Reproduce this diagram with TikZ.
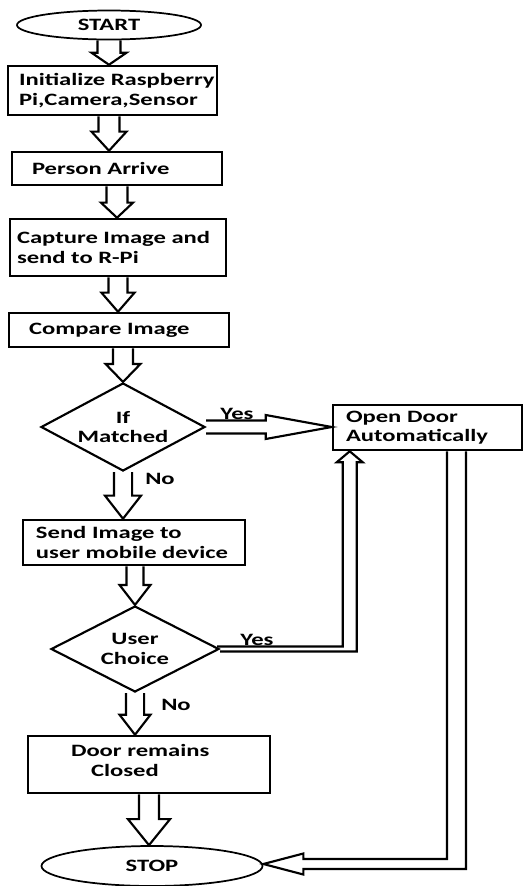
\documentclass[tikz,border=0pt]{standalone}
\usepackage{fontspec}
\setmainfont{Carlito}[FakeStretch=1.42]
\usepackage{tikz}
\usetikzlibrary{shapes.geometric}
\usetikzlibrary{positioning}
\usetikzlibrary{calc}
\newcommand{\flowfont}{\bfseries\fontsize{13pt}{14.5pt}\selectfont}
\tikzset{
  % node options
  terminal/.style={ellipse,draw,line width=1.3pt,inner sep=0pt,font=\flowfont},
  process/.style={rectangle,draw,line width=1.9pt,inner sep=0pt},
  boxtext/.style={align=left,inner sep=0pt,font=\flowfont},
  decision/.style={diamond,draw,line width=1.6pt,inner sep=0pt,aspect=2,align=center,font=\flowfont},
  answer/.style={inner sep=0pt,font=\flowfont},
  % path options
  blockarrow/.style={draw,line width=1.6pt,line join=miter},
}
% hollow block arrow: from, to, shaft half width, head half width, head length
\newcommand{\flowarrow}[5]{%
  \coordinate (fa from) at (#1);
  \coordinate (fa to) at (#2);
  \coordinate (fa base) at ($(fa to)!#5!(fa from)$);
  \draw[blockarrow] ($(fa from)!#3!90:(fa to)$) -- ($(fa base)!#3!-90:(fa from)$)
    -- ($(fa base)!#4!-90:(fa from)$) -- (fa to) -- ($(fa base)!#4!90:(fa from)$)
    -- ($(fa base)!#3!90:(fa from)$) -- ($(fa from)!#3!-90:(fa to)$);
}

\begin{document}
\begin{tikzpicture}[x=0.75pt,y=-0.75pt]
    \useasboundingbox (0,0) rectangle (525,886);
    % main column
    \node[terminal,minimum width=138pt,minimum height=21.75pt] (start) at (109,25) {START};
    \node[process,minimum width=156.75pt,minimum height=36.75pt] (init) at (112.5,90.5) {};
    \node[boxtext,right=9pt of init.west] (init text) {Initialize Raspberry\\Pi,Camera,Sensor};
    \node[process,minimum width=157.5pt,minimum height=24.75pt] (person) at (117,168.5) {};
    \node[boxtext,right=15.75pt of person.west] (person text) {Person Arrive};
    \node[process,minimum width=162pt,minimum height=42.75pt] (capture) at (118,247.5) {};
    \node[boxtext,right=6pt of capture.west] (capture text) {Capture Image and\\send to R-Pi};
    \node[process,minimum width=165pt,minimum height=25.5pt] (compare) at (119,330) {};
    \node[boxtext,right=15.75pt of compare.west] (compare text) {Compare Image};
    \node[decision,minimum width=123pt,minimum height=66pt] (match) at (123,427) {If\\Matched};
    \node[process,minimum width=166.5pt,minimum height=33.75pt] (send) at (134,542.5) {};
    \node[boxtext,right=10.5pt of send.west] (send text) {Send Image to\\user mobile device};
    \node[decision,minimum width=126pt,minimum height=64.5pt] (choice) at (135,649) {User\\Choice};
    \node[process,minimum width=181.5pt,minimum height=42.75pt] (closed) at (149,764.5) {};
    \node[boxtext,right=33pt of closed.west,yshift=3pt] (closed text) {Door remains\\\hspace*{15pt}Closed};
    \node[terminal,minimum width=165.75pt,minimum height=30pt] (stop) at (152,866) {STOP};
    % right side
    \node[process,minimum width=141.75pt,minimum height=33.75pt] (open) at (427.5,427.5) {};
    \node[boxtext,right=10.5pt of open.west] (open text) {Open Door\\Automatically};
    % answers
    \node[answer] (yes match) at (237,414) {Yes};
    \node[answer] (no match) at (160,479) {No};
    \node[answer] (yes choice) at (257,640) {Yes};
    \node[answer] (no choice) at (176,705) {No};

    \flowarrow{start.south}{start.south |- init.north}{8.6pt}{13.1pt}{9pt}
    \flowarrow{start.south |- init.south}{start.south |- person.north}{7.9pt}{13.1pt}{14.3pt}
    \flowarrow{person.south}{person.south |- capture.north}{7.9pt}{12pt}{11.3pt}
    \flowarrow{capture.south}{capture.south |- compare.north}{7.1pt}{12.4pt}{14.3pt}
    \flowarrow{compare.south -| match.north}{match.north}{7.5pt}{13.1pt}{13.5pt}
    \flowarrow{match.south}{match.south |- send.north}{6.8pt}{13.5pt}{17.3pt}
    \flowarrow{send.south -| choice.north}{choice.north}{6.4pt}{11.6pt}{15pt}
    \flowarrow{choice.south}{choice.south |- closed.north}{6.8pt}{11.6pt}{15pt}
    \flowarrow{closed.south}{closed.south |- stop.north}{7.5pt}{15.8pt}{19.5pt}
    \flowarrow{match.east}{match.east -| open.west}{4.9pt}{9pt}{49.5pt}

    % user choice yes goes up to the door
    \coordinate (up tip) at ($(open.south west)+(18,0)$);
    \draw[blockarrow] ($(choice.east)+(-3,-2.5)$) -- ($(up tip |- choice.east)+(-7,-2.5)$)
      -- ($(up tip)+(-7,11)$) -- ($(up tip)+(-13,11)$) -- (up tip) -- ($(up tip)+(13,11)$)
      -- ($(up tip)+(7,11)$) -- ($(up tip |- choice.east)+(7,2.5)$) -- ($(choice.east)+(0,2.5)$);
    % open door goes down to stop
    \coordinate (down top) at ($(open.south)+(29,0)$);
    \coordinate (down tip) at ($(stop.east)+(0,-2)$);
    \draw[blockarrow] ($(down top)+(-9.5,0)$) -- ($(down top |- down tip)+(-9.5,-5)$)
      -- ($(down tip)+(40,-5)$) -- ($(down tip)+(40,-10.5)$) -- (down tip) -- ($(down tip)+(40,10.5)$)
      -- ($(down tip)+(40,5)$) -- ($(down top |- down tip)+(9.5,5)$) -- ($(down top)+(9.5,0)$);
\end{tikzpicture}
\end{document}
